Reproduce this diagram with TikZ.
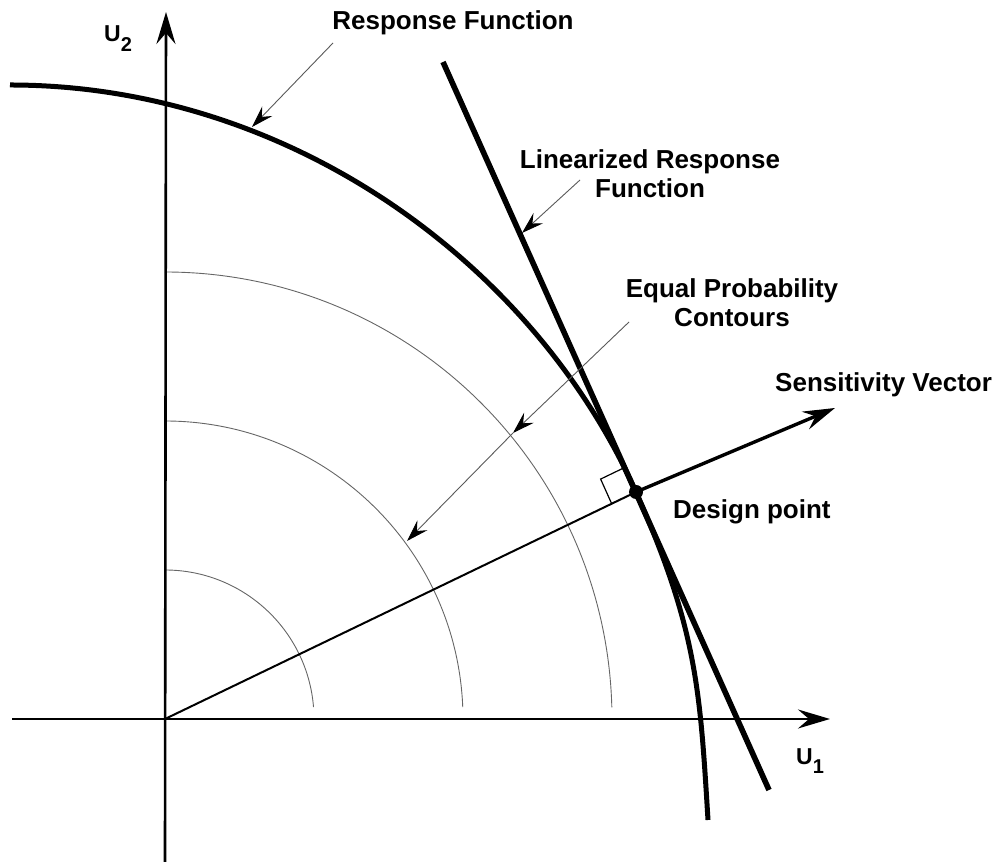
\documentclass[tikz,border=0pt]{standalone}
\usepackage{fontspec}
\setmainfont{Liberation Sans}
\usetikzlibrary{arrows.meta,calc}
\begin{document}
\begin{tikzpicture}[x=1pt,y=1pt,
  bigtip/.style={-{Stealth[length=32pt,width=19pt,inset=11pt]}},
  smalltip/.style={-{Stealth[length=22pt,width=14pt,inset=8pt,black]}},
  axisline/.style={line width=2.6pt,bigtip},
  contour/.style={black!60,line width=0.9pt},
  pointer/.style={black!65,line width=0.9pt,smalltip},
  lbl/.style={font=\fontsize{26}{29}\selectfont\bfseries,inner sep=0pt},
  axlbl/.style={font=\fontsize{23}{26}\selectfont\bfseries,inner sep=0pt}
]
\useasboundingbox (0,0) rectangle (1002,867);
% key points
\coordinate (O) at (165,148);
\coordinate (Ytop) at (166,855);
\coordinate (Ybot) at (165,5);
\coordinate (Xl) at (12,148);
\coordinate (Xr) at (830,148);
\coordinate (D) at (636,375);
\coordinate (S) at (835,459);
\coordinate (L1) at (443,805);
\coordinate (L2) at (769,77);
% equal probability contours
\draw[contour] (O) ++(90:149) arc[start angle=90,end angle=4.6,radius=149];
\draw[contour] (O) ++(90:298) arc[start angle=90,end angle=2.3,radius=298];
\draw[contour] (O) ++(90:447) arc[start angle=90,end angle=1.5,radius=447];
% axes
\draw[axisline] (Ybot) -- (Ytop);
\draw[axisline] (Xl) -- (Xr);
% sensitivity vector
\draw[line width=2pt] (O) -- (D);
\draw[line width=3.4pt,bigtip] (D) -- (S);
% right angle mark
\coordinate (RA) at ($(D)!27pt!(O)$);
\coordinate (RB) at ($(D)!27pt!(L1)$);
\draw[line width=1.2pt] (RA) -- ($(RA)+(RB)-(D)$) -- (RB);
% response function
\draw[line width=5pt] (10,782) .. controls (290,782) and (534,603) .. (D)
  .. controls (697,238) and (700,177) .. (708,47);
% linearized response function
\draw[line width=5.6pt] (L1) -- (L2);
% design point
\fill (D) circle[radius=7];
% labels
\node[axlbl,anchor=base west] (u2) at (104,825) {U\raisebox{-10pt}{\fontsize{20}{22}\selectfont 2}};
\node[axlbl,anchor=base west] (u1) at (796,102) {U\raisebox{-9pt}{\fontsize{20}{22}\selectfont 1}};
\node[lbl,anchor=base] (resp) at (453,837) {Response Function};
\node[lbl,anchor=north,align=center] (lin) at (650,718) {Linearized Response\\Function};
\node[lbl,anchor=north,align=center] (eq) at (732,589) {Equal Probability\\Contours};
\node[lbl,anchor=base west] (sens) at (775,475) {Sensitivity Vector};
\node[lbl,anchor=base west] (dp) at (673,348) {Design point};
% pointers
\coordinate (pr0) at (333,824);
\coordinate (pr1) at (252,740);
\coordinate (pl0) at (580,687);
\coordinate (pl1) at (522,634);
\coordinate (pe0) at (629,545);
\coordinate (pe1) at (513,434);
\coordinate (pe2) at (407,326);
\draw[pointer] (pr0) -- (pr1);
\draw[pointer] (pl0) -- (pl1);
\draw[pointer] (pe0) -- (pe1);
\draw[pointer] (pe1) -- (pe2);
\end{tikzpicture}
\end{document}
